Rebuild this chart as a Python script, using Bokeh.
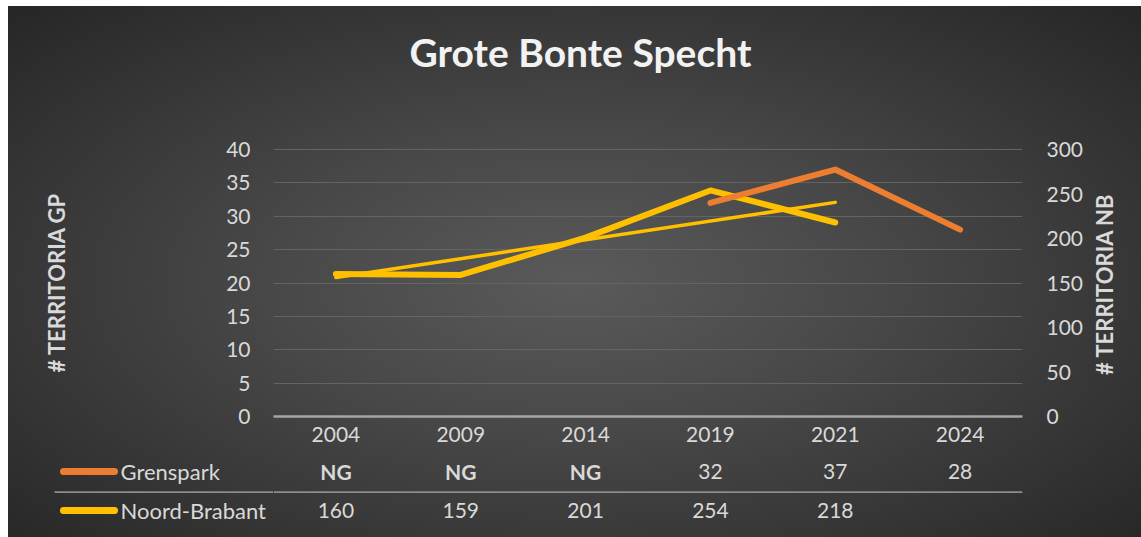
import math
import numpy as np
from bokeh.plotting import figure
from bokeh.models import (Range1d, LinearAxis, FactorRange, FixedTicker, Span)
from bokeh.layouts import column, row
from bokeh.core.properties import value
from bokeh.embed import file_html
from bokeh.resources import INLINE

# ---------------- data ----------------
years = ["2004", "2009", "2014", "2019", "2021", "2024"]
grenspark = [None, None, None, 32, 37, 28]
noord_brabant = [160, 159, 201, 254, 218, None]
grenspark_table = ["NG", "NG", "NG", "32", "37", "28"]
nb_table = ["160", "159", "201", "254", "218", ""]
series_names = ["Grenspark", "Noord-Brabant"]
left_ticks = [0, 5, 10, 15, 20, 25, 30, 35, 40]
right_ticks = [0, 50, 100, 150, 200, 250, 300]
title_text = "Grote Bonte Specht"
left_title = "# TERRITORIA GP"
right_title = "# TERRITORIA NB"

ORANGE = "#ED7D31"
YELLOW = "#FFC000"
TXT = "#d9d9d9"
FONT = "Lato"

W, H = 1133, 531
HT = 100                                 # height of title strip
FL, FR, FT, FB = 265, 1014, 142, 410     # main frame edges (canvas px)
WR = 1080                                # right edge of main figure (canvas px)
H1 = 448                                 # bottom of main chart figure (canvas px)
H2 = H - H1                              # height of data-table strip
LEFT_MAX = 40.15
RIGHT_MAX = 300 * LEFT_MAX / 40


def blank(fig):
    fig.background_fill_alpha = 0
    fig.border_fill_alpha = 0
    fig.outline_line_color = None
    fig.axis.visible = False
    fig.grid.visible = False


def strip(w, h, xr, yr):
    f = figure(width=w, height=h, x_range=xr, y_range=yr, output_backend="svg", toolbar_location=None,
               min_border_left=0, min_border_right=0, min_border_top=0, min_border_bottom=0)
    blank(f)
    return f


# ---------------- title strip ----------------
tf = strip(W, HT, Range1d(0, W), Range1d(HT, 0))
tf.text(x=[572], y=[45], text=[title_text], text_align="center", text_baseline="middle",
        text_font=value(FONT), text_font_style="bold", text_font_size="39px", text_color="#f2f2f2")

# ---------------- main chart ----------------
p = figure(width=WR, height=H1 - HT, x_range=FactorRange(*years), y_range=Range1d(0, LEFT_MAX),
           output_backend="svg", toolbar_location=None,
           min_border_left=FL, min_border_right=WR - FR, min_border_top=FT - HT, min_border_bottom=H1 - FB)
p.extra_y_ranges = {"nb": Range1d(0, RIGHT_MAX)}
p.background_fill_alpha = 0
p.border_fill_alpha = 0
p.outline_line_color = None

p.xgrid.visible = False
p.ygrid.ticker = FixedTicker(ticks=left_ticks)
p.ygrid.grid_line_color = "#646464"
p.ygrid.grid_line_width = 1


def style_axis(ax, standoff):
    ax.axis_line_color = None
    ax.major_tick_line_color = None
    ax.minor_tick_line_color = None
    ax.major_tick_out = 0
    ax.major_tick_in = 0
    ax.minor_tick_out = 0
    ax.major_label_text_color = TXT
    ax.major_label_text_font = FONT
    ax.major_label_text_font_size = "21px"
    ax.major_label_standoff = standoff
    ax.axis_label_text_color = TXT
    ax.axis_label_text_font = FONT
    ax.axis_label_text_font_style = "bold"
    ax.axis_label_text_font_size = "22px"


la = p.yaxis[0]
la.ticker = FixedTicker(ticks=left_ticks)
style_axis(la, 23)
la.axis_label = left_title
la.axis_label_standoff = 153

ra = LinearAxis(y_range_name="nb", ticker=FixedTicker(ticks=right_ticks))
style_axis(ra, 24)
p.add_layout(ra, "right")

xa = p.xaxis[0]
style_axis(xa, 10)
xa.axis_line_color = "#a6a6a6"
xa.axis_line_width = 2.5

gx = [y for y, v in zip(years, grenspark) if v is not None]
gy = [v for v in grenspark if v is not None]
nx = [y for y, v in zip(years, noord_brabant) if v is not None]
ny = [v for v in noord_brabant if v is not None]

# linear trendline of Noord-Brabant (least squares over its points)
idx = np.arange(len(ny))
slope, intercept = np.polyfit(idx, ny, 1)
tx = [nx[0], nx[-1]]
ty = [intercept, intercept + slope * idx[-1]]

p.line(tx, ty, y_range_name="nb", line_color=YELLOW, line_width=3.5, line_cap="round")
p.line(nx, ny, y_range_name="nb", line_color=YELLOW, line_width=6, line_join="round", line_cap="round")
p.line(gx, gy, line_color=ORANGE, line_width=6, line_join="round", line_cap="round")

# right-hand axis title strip
rs = strip(W - WR, H1 - HT, Range1d(WR, W), Range1d(H1, HT))
rs.text(x=[1096], y=[(FT + FB) / 2], text=[right_title], angle=math.pi / 2,
        text_align="center", text_baseline="middle", text_font=value(FONT),
        text_font_style="bold", text_font_size="22px", text_color=TXT)

# ---------------- data table strip ----------------
ROW_Y = [465, 504]      # canvas y of the two table rows
SEP_Y = 485.7

lg = strip(FL, H2, Range1d(0, FL), Range1d(H, H1))
lg.segment(x0=[55, 55], x1=[106, 106], y0=ROW_Y, y1=ROW_Y, line_color=[ORANGE, YELLOW],
           line_width=7, line_cap="round")
lg.text(x=[112, 112], y=ROW_Y, text=series_names, text_align="left", text_baseline="middle",
        text_font=value(FONT), text_font_size="22px", text_color=TXT)
lg.segment(x0=[46], x1=[FL], y0=[SEP_Y], y1=[SEP_Y], line_color="#8c8c8c", line_width=1.7)

tb = figure(width=W - FL, height=H2, x_range=FactorRange(*years), y_range=Range1d(H, H1),
            output_backend="svg", toolbar_location=None,
            min_border_left=0, min_border_right=W - FR, min_border_top=0, min_border_bottom=0)
blank(tb)
tb.text(x=years, y=[ROW_Y[0]] * len(years), text=grenspark_table,
        text_font_style=["bold" if t == "NG" else "normal" for t in grenspark_table],
        text_align="center", text_baseline="middle", text_font=value(FONT),
        text_font_size="21px", text_color=TXT)
tb.text(x=years, y=[ROW_Y[1]] * len(years), text=nb_table,
        text_align="center", text_baseline="middle", text_font=value(FONT),
        text_font_size="21px", text_color=TXT)
tb.add_layout(Span(location=SEP_Y, dimension="width", line_color="#8c8c8c", line_width=1.7))

layout = column(tf, row(p, rs, spacing=0), row(lg, tb, spacing=0), spacing=0)
layout.styles = {"margin-left": "8px", "margin-top": "6px", "width": f"{W}px", "height": f"{H}px",
                 "background": "radial-gradient(ellipse farthest-corner at 50% 52%, #5a5a5a 0%, #474747 40%, #262626 100%)"}

open("out.html", "w").write(file_html(layout, INLINE))
